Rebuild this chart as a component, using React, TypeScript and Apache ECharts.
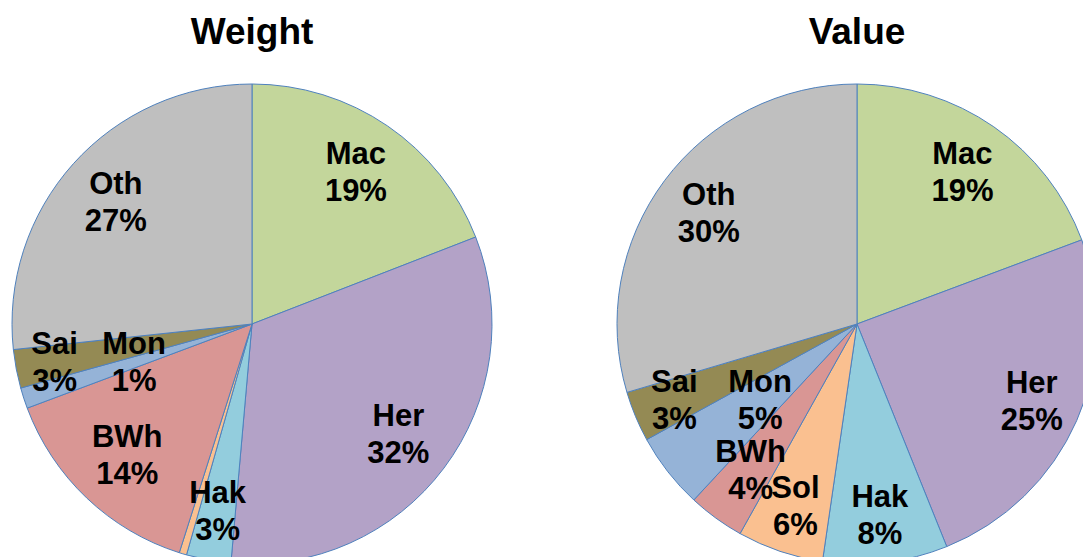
import React, { useEffect, useRef } from "react";
import * as echarts from "echarts";

const categories = ["Mac", "Her", "Hak", "Sol", "BWh", "Mon", "Sai", "Oth"];
const weightValues = [19.1, 32.3, 3.0, 0.5, 14.4, 1.4, 2.6, 26.7];
const valueValues = [19.3, 24.6, 8.4, 5.8, 3.8, 5.1, 3.4, 29.6];
const colors = ["#C3D69B", "#B3A2C7", "#93CDDD", "#FAC090", "#D99694", "#95B3D7", "#948A54", "#BFBFBF"];
const titles = ["Weight", "Value"];

// label distance from centre per category (0 = no label)
const weightLabelRadius: Record<string, number> = { Mac: 181, Her: 180, Hak: 187, Sol: 0, BWh: 178, Mon: 121, Sai: 198, Oth: 180 };
const valueLabelRadius: Record<string, number> = { Mac: 182, Her: 188, Hak: 189, Sol: 189, BWh: 178, Mon: 120, Sai: 195, Oth: 182 };

const FONT = "'Liberation Sans', Arial, sans-serif";

function pieSeries(values: number[], cx: number, labelR: Record<string, number>) {
  const base = {
    type: "pie",
    center: [cx, 324],
    startAngle: 90,
    clockwise: true,
    silent: true,
    avoidLabelOverlap: false,
    labelLine: { show: false },
    labelLayout: { hideOverlap: false },
  };
  const fmt = (p: any) => `${p.name}\n${Math.round(p.percent)}%`;
  const lbl = {
    position: "inside",
    formatter: fmt,
    color: "#000",
    fontSize: 31,
    fontWeight: "bold",
    fontFamily: FONT,
    lineHeight: 37,
  };
  const out: any[] = [
    {
      ...base,
      radius: [0, 240],
      label: { show: false },
      itemStyle: { borderColor: "#4F81BD", borderWidth: 1 },
      data: categories.map((n, i) => ({ name: n, value: values[i], itemStyle: { color: colors[i] } })),
    },
  ];
  const radii = Array.from(new Set(Object.values(labelR).filter((r) => r > 0)));
  radii.forEach((r) => {
    out.push({
      ...base,
      radius: [0, r * 2],
      z: 5,
      itemStyle: { color: "transparent", borderWidth: 0 },
      label: lbl,
      data: categories.map((n, i) => ({
        name: n,
        value: values[i],
        label: { show: labelR[n] === r },
      })),
    });
  });
  return out;
}

export default function App() {
  const ref = useRef<HTMLDivElement>(null);
  useEffect(() => {
    if (!ref.current) return;
    const chart = echarts.init(ref.current, undefined, { renderer: "svg" });
    const titleStyle = { fontSize: 37, fontWeight: "bold", fontFamily: FONT, color: "#000" };
    chart.setOption({
      animation: false,
      backgroundColor: "#ffffff",
      title: [
        { text: titles[0], left: 252, top: 13, padding: 0, textAlign: "center", textStyle: titleStyle },
        { text: titles[1], left: 857, top: 13, padding: 0, textAlign: "center", textStyle: titleStyle },
      ],
      series: [
        ...pieSeries(weightValues, 252, weightLabelRadius),
        ...pieSeries(valueValues, 857, valueLabelRadius),
      ],
    });
    return () => chart.dispose();
  }, []);
  return <div ref={ref} style={{ position: "fixed", left: 0, top: 0, width: 1083, height: 557 }} />;
}
